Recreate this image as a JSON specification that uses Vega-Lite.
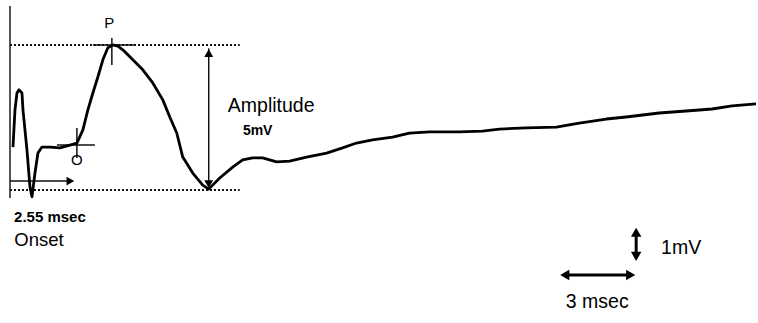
{
  "$schema": "https://vega.github.io/schema/vega-lite/v6.json",
  "width": 758,
  "height": 323,
  "autosize": {"type": "fit", "contains": "padding"},
  "padding": 0,
  "background": "white",
  "config": {"view": {"stroke": null}, "font": "Liberation Sans"},
  "datasets": {
    "wave": [
      {"t": 0.52, "v": 1.50}, {"t": 0.60, "v": 2.80}, {"t": 0.68, "v": 3.39}, {"t": 0.76, "v": 3.50},
      {"t": 0.88, "v": 3.39}, {"t": 0.92, "v": 2.80}, {"t": 1.08, "v": 1.40}, {"t": 1.20, "v": 0.10},
      {"t": 1.28, "v": -0.24}, {"t": 1.40, "v": 0.59}, {"t": 1.52, "v": 1.29}, {"t": 1.68, "v": 1.50},
      {"t": 2.00, "v": 1.50}, {"t": 2.40, "v": 1.47}, {"t": 2.80, "v": 1.57}, {"t": 3.08, "v": 1.64},
      {"t": 3.32, "v": 2.10}, {"t": 3.52, "v": 2.80}, {"t": 3.72, "v": 3.39}, {"t": 3.92, "v": 3.95},
      {"t": 4.12, "v": 4.55}, {"t": 4.32, "v": 4.97}, {"t": 4.52, "v": 5.07}, {"t": 4.72, "v": 5.03},
      {"t": 4.92, "v": 4.90}, {"t": 5.32, "v": 4.55}, {"t": 5.72, "v": 4.20}, {"t": 6.12, "v": 3.74},
      {"t": 6.52, "v": 3.15}, {"t": 6.80, "v": 2.55}, {"t": 7.08, "v": 1.99}, {"t": 7.32, "v": 1.15},
      {"t": 7.72, "v": 0.59}, {"t": 8.12, "v": 0.17}, {"t": 8.36, "v": 0.03}, {"t": 8.80, "v": 0.42},
      {"t": 9.32, "v": 0.80}, {"t": 9.72, "v": 1.05}, {"t": 10.12, "v": 1.12}, {"t": 10.52, "v": 1.12},
      {"t": 11.08, "v": 0.98}, {"t": 11.60, "v": 1.01}, {"t": 12.28, "v": 1.15}, {"t": 13.08, "v": 1.29},
      {"t": 13.72, "v": 1.47}, {"t": 14.28, "v": 1.64}, {"t": 14.92, "v": 1.75}, {"t": 15.72, "v": 1.85},
      {"t": 16.40, "v": 1.99}, {"t": 17.20, "v": 2.03}, {"t": 18.40, "v": 2.03}, {"t": 19.32, "v": 2.06},
      {"t": 20.00, "v": 2.13}, {"t": 21.08, "v": 2.17}, {"t": 22.28, "v": 2.20}, {"t": 23.20, "v": 2.34},
      {"t": 24.28, "v": 2.48}, {"t": 25.08, "v": 2.55}, {"t": 26.40, "v": 2.69}, {"t": 27.48, "v": 2.76},
      {"t": 28.52, "v": 2.83}, {"t": 29.32, "v": 2.94}, {"t": 30.28, "v": 3.01}
    ],
    "segs": [
      {"kind": "axis", "t": 0.4, "t2": 0.4, "v": 6.43, "v2": -0.28},
      {"kind": "dotted", "t": 0.4, "t2": 9.6, "v": 5.07, "v2": 5.07},
      {"kind": "dotted", "t": 0.4, "t2": 9.6, "v": 0.0, "v2": 0.0},
      {"kind": "solid", "t": 3.72, "t2": 5.40, "v": 5.07, "v2": 5.07},
      {"kind": "solid", "t": 4.48, "t2": 4.48, "v": 5.31, "v2": 4.37},
      {"kind": "solid", "t": 2.28, "t2": 3.80, "v": 1.57, "v2": 1.57},
      {"kind": "solid", "t": 3.08, "t2": 3.08, "v": 2.17, "v2": 1.12},
      {"kind": "solid", "t": 0.4, "t2": 2.75, "v": 0.31, "v2": 0.31},
      {"kind": "solid", "t": 8.36, "t2": 8.36, "v": 4.95, "v2": 0.1},
      {"kind": "arrow", "t": 25.48, "t2": 25.48, "v": -1.50, "v2": -2.27},
      {"kind": "arrow", "t": 22.6, "t2": 25.3, "v": -2.97, "v2": -2.97}
    ],
    "heads": [
      {"t": 2.82, "v": 0.31, "dir": "right", "group": "thin"},
      {"t": 8.36, "v": 4.78, "dir": "up", "group": "thin"},
      {"t": 8.36, "v": 0.20, "dir": "down", "group": "thin"},
      {"t": 25.48, "v": -1.48, "dir": "up", "group": "bold"},
      {"t": 25.48, "v": -2.32, "dir": "down", "group": "bold"},
      {"t": 22.62, "v": -2.97, "dir": "left", "group": "bold"},
      {"t": 25.26, "v": -2.97, "dir": "right", "group": "bold"}
    ],
    "labels": [
      {"t": 4.38, "v": 5.84, "label": "P", "style": "small"},
      {"t": 3.08, "v": 1.05, "label": "O", "style": "small"},
      {"t": 10.86, "v": 2.94, "label": "Amplitude", "style": "regular"},
      {"t": 10.32, "v": 2.06, "label": "5mV", "style": "boldsmall"},
      {"t": 2.00, "v": -0.94, "label": "2.55 msec", "style": "bold"},
      {"t": 1.56, "v": -1.75, "label": "Onset", "style": "large"},
      {"t": 27.28, "v": -2.03, "label": "1mV", "style": "regular"},
      {"t": 23.92, "v": -3.92, "label": "3 msec", "style": "regular"}
    ]
  },
  "layer": [
    {
      "data": {"name": "segs"},
      "transform": [{"filter": "datum.kind === 'axis'"}],
      "mark": {"type": "rule", "color": "#555555", "strokeWidth": 2},
      "encoding": {
        "x": {"field": "t", "type": "quantitative", "scale": {"domain": [0, 30.32], "nice": false, "zero": false}, "axis": null},
        "x2": {"field": "t2"},
        "y": {"field": "v", "type": "quantitative", "scale": {"domain": [-4.65, 6.64], "nice": false, "zero": false}, "axis": null},
        "y2": {"field": "v2"}
      }
    },
    {
      "data": {"name": "segs"},
      "transform": [{"filter": "datum.kind === 'dotted'"}],
      "mark": {"type": "rule", "color": "#111111", "strokeWidth": 2, "strokeDash": [2, 2]},
      "encoding": {
        "x": {"field": "t", "type": "quantitative"},
        "x2": {"field": "t2"},
        "y": {"field": "v", "type": "quantitative"},
        "y2": {"field": "v2"}
      }
    },
    {
      "data": {"name": "segs"},
      "transform": [{"filter": "datum.kind === 'solid'"}],
      "mark": {"type": "rule", "color": "#111111", "strokeWidth": 1.5},
      "encoding": {
        "x": {"field": "t", "type": "quantitative"},
        "x2": {"field": "t2"},
        "y": {"field": "v", "type": "quantitative"},
        "y2": {"field": "v2"}
      }
    },
    {
      "data": {"name": "segs"},
      "transform": [{"filter": "datum.kind === 'arrow'"}],
      "mark": {"type": "rule", "color": "#000000", "strokeWidth": 3},
      "encoding": {
        "x": {"field": "t", "type": "quantitative"},
        "x2": {"field": "t2"},
        "y": {"field": "v", "type": "quantitative"},
        "y2": {"field": "v2"}
      }
    },
    {
      "data": {"name": "wave"},
      "mark": {"type": "line", "color": "#000000", "strokeWidth": 2.8, "strokeJoin": "round"},
      "encoding": {
        "x": {"field": "t", "type": "quantitative"},
        "y": {"field": "v", "type": "quantitative"}
      }
    },
    {
      "data": {"name": "heads"},
      "transform": [{"filter": "datum.group === 'thin'"}],
      "mark": {"type": "point", "filled": true, "color": "#000000", "opacity": 1, "size": 80},
      "encoding": {
        "x": {"field": "t", "type": "quantitative"},
        "y": {"field": "v", "type": "quantitative"},
        "shape": {"field": "dir", "type": "nominal", "scale": {"domain": ["up", "down", "left", "right"], "range": ["triangle-up", "triangle-down", "triangle-left", "triangle-right"]}, "legend": null}
      }
    },
    {
      "data": {"name": "heads"},
      "transform": [{"filter": "datum.group === 'bold'"}],
      "mark": {"type": "point", "filled": true, "color": "#000000", "opacity": 1, "size": 110},
      "encoding": {
        "x": {"field": "t", "type": "quantitative"},
        "y": {"field": "v", "type": "quantitative"},
        "shape": {"field": "dir", "type": "nominal", "scale": {"domain": ["up", "down", "left", "right"], "range": ["triangle-up", "triangle-down", "triangle-left", "triangle-right"]}, "legend": null}
      }
    },
    {
      "data": {"name": "labels"},
      "transform": [{"filter": "datum.style === 'regular'"}],
      "mark": {"type": "text", "fontSize": 19.5, "color": "#000000", "align": "center", "baseline": "middle"},
      "encoding": {
        "x": {"field": "t", "type": "quantitative"},
        "y": {"field": "v", "type": "quantitative"},
        "text": {"field": "label"}
      }
    },
    {
      "data": {"name": "labels"},
      "transform": [{"filter": "datum.style === 'bold'"}],
      "mark": {"type": "text", "fontSize": 15, "fontWeight": "bold", "color": "#000000", "align": "center", "baseline": "middle"},
      "encoding": {
        "x": {"field": "t", "type": "quantitative"},
        "y": {"field": "v", "type": "quantitative"},
        "text": {"field": "label"}
      }
    },
    {
      "data": {"name": "labels"},
      "transform": [{"filter": "datum.style === 'boldsmall'"}],
      "mark": {"type": "text", "fontSize": 14, "fontWeight": "bold", "color": "#000000", "align": "center", "baseline": "middle"},
      "encoding": {
        "x": {"field": "t", "type": "quantitative"},
        "y": {"field": "v", "type": "quantitative"},
        "text": {"field": "label"}
      }
    },
    {
      "data": {"name": "labels"},
      "transform": [{"filter": "datum.style === 'small'"}],
      "mark": {"type": "text", "fontSize": 15, "color": "#000000", "align": "center", "baseline": "middle"},
      "encoding": {
        "x": {"field": "t", "type": "quantitative"},
        "y": {"field": "v", "type": "quantitative"},
        "text": {"field": "label"}
      }
    },
    {
      "data": {"name": "labels"},
      "transform": [{"filter": "datum.style === 'large'"}],
      "mark": {"type": "text", "fontSize": 18.5, "color": "#000000", "align": "center", "baseline": "middle"},
      "encoding": {
        "x": {"field": "t", "type": "quantitative"},
        "y": {"field": "v", "type": "quantitative"},
        "text": {"field": "label"}
      }
    }
  ]
}
